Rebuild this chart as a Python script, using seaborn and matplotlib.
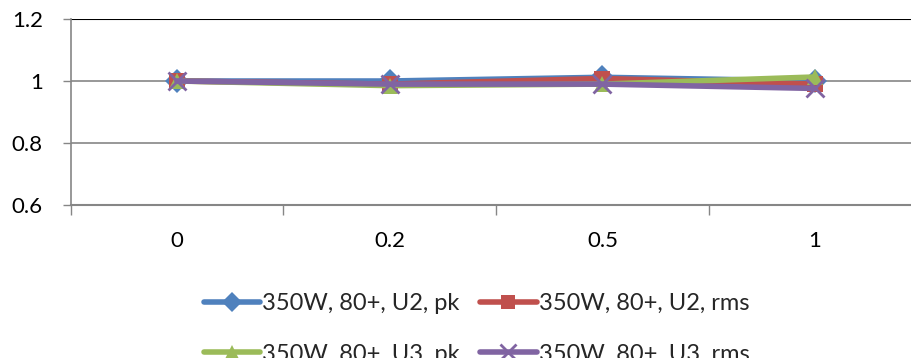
import matplotlib
matplotlib.use("Agg")
import matplotlib.pyplot as plt
import seaborn as sns
import pandas as pd
from matplotlib.lines import Line2D

categories = ["0", "0.2", "0.5", "1"]
series_names = ["350W, 80+, U2, pk", "350W, 80+, U2, rms", "350W, 80+, U3, pk", "350W, 80+, U3, rms"]
u2_pk = [1.0, 1.0, 1.012, 1.0]
u2_rms = [1.0, 0.99, 1.008, 0.99]
u3_pk = [1.0, 0.985, 0.99, 1.013]
u3_rms = [1.0, 0.99, 0.99, 0.976]
y_ticks = [0.6, 0.8, 1.0, 1.2]
y_labels = ["0.6", "0.8", "1", "1.2"]

colors = ["#4F81BD", "#C0504D", "#9BBB59", "#8064A2"]
markers = ["D", "s", "^", "x"]

sns.set_theme(style="white")
plt.rcParams["font.family"] = ["Lato", "DejaVu Sans"]
FS_TICK = 16
FS_LEG = 17

fig = plt.figure(figsize=(9.12, 3.58), dpi=100)
ax = fig.add_axes([70.5 / 912, 1 - 205 / 358, 851 / 912, 186 / 358])

for name, vals, c, m in zip(series_names, [u2_pk, u2_rms, u3_pk, u3_rms], colors, markers):
    d = pd.DataFrame({"pos": range(len(vals)), "value": vals})
    sns.lineplot(data=d, x="pos", y="value", color=c, marker=m, linewidth=4,
                 markersize=12 if m != "x" else 13,
                 markeredgewidth=0 if m != "x" else 2,
                 markeredgecolor=c, markerfacecolor=c, ax=ax, zorder=3)

ax.set_xlim(-0.5, 3.5)
ax.set_ylim(0.6, 1.2)
ax.set_yticks(y_ticks)
ax.set_yticklabels(y_labels, fontsize=FS_TICK, color="black")
ax.set_xticks(range(len(categories)))
ax.set_xticklabels(categories, fontsize=FS_TICK, color="black")
ax.tick_params(axis="x", length=0, pad=19)
ax.tick_params(axis="y", length=6, width=1, color="#868686", pad=14, left=True)
ax.set_xticks([-0.5, 0.5, 1.5, 2.5, 3.5], minor=True)
ax.tick_params(axis="x", which="minor", length=7, width=1, color="#868686", bottom=True, direction="out")
ax.set_xlabel("")
ax.set_ylabel("")

for y in [0.8, 1.0]:
    ax.axhline(y, color="#868686", linewidth=1.2, zorder=1)
ax.axhline(1.2, color="black", linewidth=1.5, zorder=1)

for s in ["top", "right"]:
    ax.spines[s].set_visible(False)
ax.spines["left"].set_color("#868686")
ax.spines["bottom"].set_color("#868686")
ax.spines["left"].set_linewidth(1.2)
ax.spines["bottom"].set_linewidth(1.5)

handles = []
for c, m in zip(colors, markers):
    h = Line2D([0], [0], color=c, linewidth=4, marker=m, markersize=10 if m != "x" else 12,
               markeredgewidth=0 if m != "x" else 2, markerfacecolor=c, markeredgecolor=c)
    handles.append(h)

order = [0, 2, 1, 3]
fig.legend([handles[i] for i in order], [series_names[i] for i in order],
           loc="upper center", bbox_to_anchor=(0.5225, 1 - 272 / 358),
           ncol=2, frameon=False, fontsize=FS_LEG, handlelength=2.4, handletextpad=0.08,
           columnspacing=0.85, labelspacing=1.25)

fig.savefig("out.png", dpi=100)
